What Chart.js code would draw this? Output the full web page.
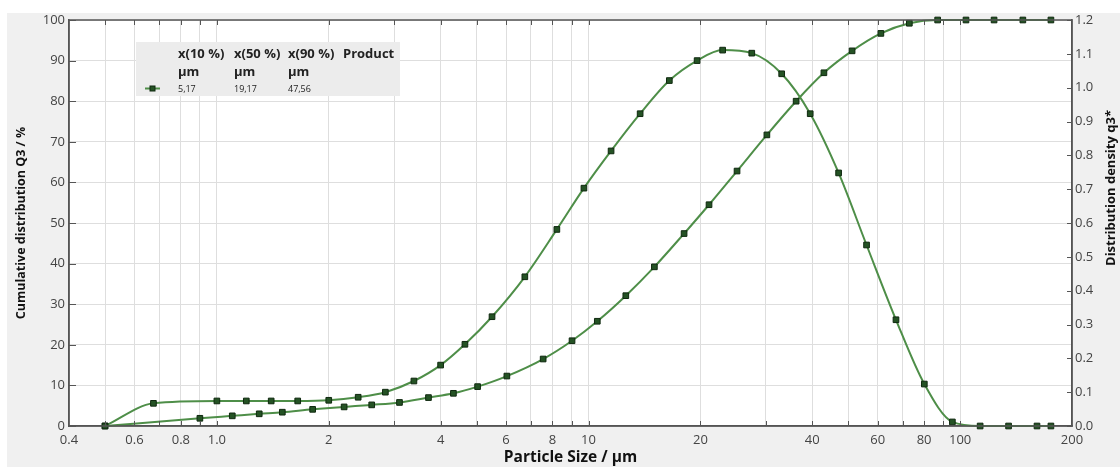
<!DOCTYPE html>
<html><head><meta charset="utf-8">
<script src="https://cdn.jsdelivr.net/npm/chart.js@4"></script>
<style>html,body{margin:0;padding:0;background:#fff}#wrap{width:1120px;height:467px;position:relative}</style>
</head><body><div id="wrap"><canvas id="c" width="1120" height="467"></canvas></div>
<script>
// ---- data ----
const sizeQ3 = [0.5,0.9,1.1,1.3,1.5,1.81,2.2,2.61,3.10,3.71,4.33,5.03,6.03,7.55,9.03,10.56,12.6,15.04,18.08,21.1,25.1,30.2,36.2,43.0,51.2,61.2,73.0,87.0,103.7,123.4,147.5,175.5];
const cumQ3 = [0,1.9,2.5,3.0,3.4,4.1,4.7,5.2,5.8,7.0,8.05,9.7,12.3,16.5,21.0,25.8,32.1,39.2,47.4,54.5,62.8,71.7,80.0,87.0,92.4,96.7,99.2,100,100,100,100,100];
const sizeDensity = [0.5,0.675,1.0,1.2,1.4,1.65,2.0,2.4,2.84,3.39,4.0,4.65,5.5,6.74,8.22,9.72,11.5,13.77,16.5,19.6,22.96,27.5,33.1,39.5,47.1,56.0,67.2,80.1,95.3,113.2,135,161,175.5];
const densityQ3 = [0,0.067,0.074,0.074,0.074,0.074,0.076,0.085,0.100,0.133,0.180,0.2415,0.323,0.441,0.581,0.703,0.813,0.923,1.021,1.080,1.111,1.102,1.041,0.923,0.748,0.535,0.314,0.124,0.012,0,0,0,0];
const xTickValues = [0.4,0.6,0.8,1,2,4,6,8,10,20,40,60,80,100,200];
const xTickLabels = ['0.4','0.6','0.8','1.0','2','4','6','8','10','20','40','60','80','100','200'];
const xGridValues = [0.5,0.6,0.7,0.8,0.9,1,2,3,4,5,6,7,8,9,10,20,30,40,50,60,70,80,90,100];
const yTickValues = [0,10,20,30,40,50,60,70,80,90,100];
const y2TickValues = [0,0.1,0.2,0.3,0.4,0.5,0.6,0.7,0.8,0.9,1.0,1.1,1.2];
const legendHeaders = ['x(10 %)','x(50 %)','x(90 %)','Product'];
const legendUnits = ['µm','µm','µm'];
const legendValues = ['5,17','19,17','47,56'];
const xTitle = 'Particle Size / µm';
const yTitle = 'Cumulative distribution Q3 / %';
const y2Title = 'Distribution density q3*';

const LINE = 'rgb(78,142,72)';
const PT_FILL = '#245224';
const PT_BORDER = '#0f280f';
const AXIS = '#555';
const GRID = '#dedede';
const FONT = '"Open Sans", "DejaVu Sans", sans-serif';

const allX = Array.from(new Set(xTickValues.concat(xGridValues))).sort((a,b)=>a-b);

const decor = {
  id: 'decor',
  beforeDraw(chart) {
    const {ctx, chartArea: a} = chart;
    ctx.save();
    ctx.fillStyle = '#fff'; ctx.fillRect(0,0,chart.width,chart.height);
    ctx.fillStyle = '#f0f0f0'; ctx.fillRect(7,13,chart.width-7,chart.height-13);
    ctx.fillStyle = '#fff'; ctx.fillRect(a.left,a.top,a.right-a.left,a.bottom-a.top);
    ctx.restore();
  },
  beforeDatasetsDraw(chart) {
    const {ctx} = chart;
    ctx.save();
    ctx.fillStyle = '#ececec';
    ctx.fillRect(136,42,264,54);
    const cols = [178,234,288,343];
    ctx.fillStyle = '#222';
    ctx.textBaseline = 'alphabetic';
    ctx.font = 'bold 13px ' + FONT;
    legendHeaders.forEach((t,i)=>ctx.fillText(t, cols[i], 58));
    legendUnits.forEach((t,i)=>ctx.fillText(t, cols[i], 76));
    ctx.font = '9px ' + FONT;
    legendValues.forEach((t,i)=>ctx.fillText(t, cols[i], 92));
    ctx.strokeStyle = LINE; ctx.lineWidth = 2;
    ctx.beginPath(); ctx.moveTo(145,88.5); ctx.lineTo(160,88.5); ctx.stroke();
    ctx.fillStyle = PT_FILL; ctx.strokeStyle = PT_BORDER; ctx.lineWidth = 1;
    ctx.fillRect(150,86,5,5); ctx.strokeRect(150,86,5,5);
    ctx.restore();
  },
  afterDraw(chart) {
    const {ctx, chartArea: a, scales} = chart;
    ctx.save();
    ctx.strokeStyle = AXIS; ctx.lineWidth = 1.5;
    ctx.strokeRect(a.left,a.top,a.right-a.left,a.bottom-a.top);
    ctx.lineWidth = 1;
    ctx.beginPath();
    xGridValues.forEach(v=>{
      const x = Math.round(scales.x.getPixelForValue(v))+0.5;
      ctx.moveTo(x,a.bottom); ctx.lineTo(x,a.bottom-5);
      ctx.moveTo(x,a.top); ctx.lineTo(x,a.top+5);
    });
    yTickValues.forEach(v=>{
      const y = Math.round(scales.y.getPixelForValue(v))+0.5;
      ctx.moveTo(a.left,y); ctx.lineTo(a.left+7,y);
    });
    y2TickValues.forEach(v=>{
      const y = Math.round(scales.y2.getPixelForValue(v))+0.5;
      ctx.moveTo(a.right,y); ctx.lineTo(a.right-5,y);
    });
    ctx.stroke();
    ctx.translate(1111,188);
    ctx.rotate(-Math.PI/2);
    ctx.fillStyle = '#111';
    ctx.font = 'bold 13px ' + FONT;
    ctx.textAlign = 'center'; ctx.textBaseline = 'middle';
    ctx.fillText(y2Title,0,0);
    ctx.restore();
  }
};

new Chart(document.getElementById('c'), {
  type: 'line',
  data: {
    datasets: [
      { label: 'Q3', data: sizeQ3.map((x,i)=>({x, y: cumQ3[i]})), yAxisID: 'y' },
      { label: 'q3*', data: sizeDensity.map((x,i)=>({x, y: densityQ3[i]})), yAxisID: 'y2' }
    ].map(d=>Object.assign(d,{
      borderColor: LINE, borderWidth: 2, cubicInterpolationMode: 'monotone',
      pointStyle: 'rect', pointRadius: 4, pointBackgroundColor: PT_FILL,
      pointBorderColor: PT_BORDER, pointBorderWidth: 1, fill: false, clip: false
    }))
  },
  options: {
    responsive: false, animation: false, devicePixelRatio: 1,
    layout: { padding: { top: 20, left: 0, right: 0, bottom: 0 } },
    plugins: { legend: { display: false }, tooltip: { enabled: false } },
    scales: {
      x: {
        type: 'logarithmic', min: 0.4, max: 200,
        afterBuildTicks: s => { s.ticks = allX.map(v=>({value:v})); },
        afterFit: s => { s.height = 41; },
        ticks: {
          autoSkip: false, maxRotation: 0, minRotation: 0, padding: 6,
          color: '#444', font: { family: FONT, size: 13 },
          callback: v => { const i = xTickValues.indexOf(v); return i >= 0 ? xTickLabels[i] : ''; }
        },
        grid: {
          drawTicks: false, lineWidth: 1,
          color: c => (c.tick && c.tick.value > 0.4 && c.tick.value <= 100) ? GRID : 'rgba(0,0,0,0)'
        },
        border: { color: AXIS, width: 1.5 },
        title: { display: true, text: xTitle, color: '#111', font: { family: FONT, size: 15.5, weight: 'bold' }, padding: { top: 0, bottom: 0 } }
      },
      y: {
        position: 'left', min: 0, max: 100,
        afterBuildTicks: s => { s.ticks = yTickValues.map(v=>({value:v})); },
        afterFit: s => { s.width = 69; },
        ticks: { padding: 4, color: '#444', font: { family: FONT, size: 13 } },
        grid: { drawTicks: false, color: GRID, lineWidth: 1 },
        border: { color: AXIS, width: 1.5 },
        title: { display: true, text: yTitle, color: '#111', font: { family: FONT, size: 12.5, weight: 'bold' }, padding: { top: 14, bottom: 0 } }
      },
      y2: {
        position: 'right', min: 0, max: 1.2,
        afterBuildTicks: s => { s.ticks = y2TickValues.map(v=>({value:v})); },
        afterFit: s => { s.width = 48; },
        ticks: { padding: 3, color: '#444', font: { family: FONT, size: 13 }, callback: v => Number(v).toFixed(1) },
        grid: { drawOnChartArea: false, drawTicks: false },
        border: { color: AXIS, width: 1.5 }
      }
    }
  },
  plugins: [decor]
});
</script>
</body></html>
